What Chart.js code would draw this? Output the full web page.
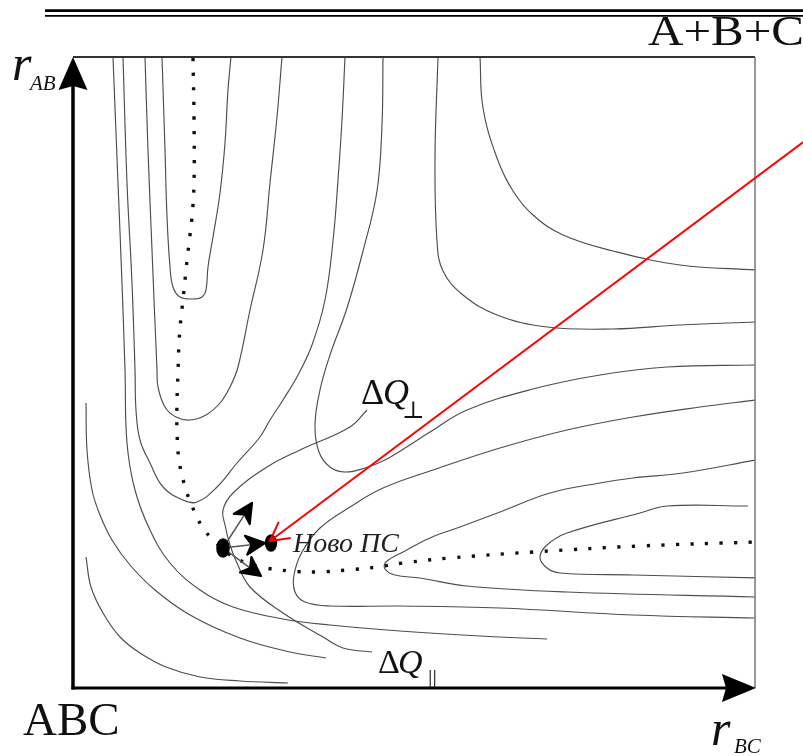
<!DOCTYPE html>
<html>
<head>
<meta charset="utf-8">
<script src="https://cdn.jsdelivr.net/npm/chart.js@4.4.1/dist/chart.umd.min.js"></script>
<style>
html,body{margin:0;padding:0;background:#fff;}
#wrap{position:relative;width:803px;height:756px;}
</style>
</head>
<body>
<div id="wrap"><canvas id="pes" width="803" height="756"></canvas></div>
<script>
// Поверхность потенциальной энергии A+BC, координаты [r_BC, r_AB] в условных единицах
// (рамка графика: r_BC 0..682, r_AB 0..630)

// долина входа (U-образные изолинии)
const entrance1 = [[89,631],[92,538],[94,471],[97,421],[100,401],[107,391],[120,389],[129,391],[133,398],[135,421],[140,451],[147,495],[152,545],[155,598],[158,631]];
const entrance2 = [[72,631],[75,538],[79,438],[84,318],[85,301],[92,281],[103,271],[117,268],[133,273],[147,285],[157,301],[165,321],[177,378],[190,438],[197,505],[204,571],[209,631]];
const entrance3 = [[50,631],[54,505],[59,405],[62,318],[63,278],[67,248],[77,225],[90,201],[110,188],[124,186],[144,201],[164,225],[187,251],[197,268],[210,288],[225,313],[239,343],[252,388],[260,447],[265,508],[269,568],[272,631]];

// долина выхода
const exit1 = [[675,182],[594,182],[567,175],[494,155],[474,143],[467,131],[474,120],[487,115],[560,113],[685,110]];
const exit2 = [[683,228],[610,215],[560,210],[527,205],[477,195],[427,176],[387,161],[357,150],[332,137],[313,126],[312,119],[322,113],[347,110],[394,102],[494,96],[683,91]];
const exit3 = [[683,288],[627,281],[560,271],[494,258],[427,240],[360,218],[310,200],[277,181],[247,160],[229,136],[221,113],[222,96],[232,86],[257,82],[327,82],[427,80],[560,73],[683,70]];

// плато A+B+C
const plateau1 = [[310,631],[309,563],[304,497],[290,437],[274,380],[257,333],[247,298],[242,263],[246,236],[257,221],[272,216],[292,220],[312,228],[332,240],[357,256],[394,278],[460,299],[527,313],[594,321],[683,323]];
const plateau2 = [[365,631],[362,530],[364,447],[370,417],[390,393],[424,373],[474,361],[540,359],[607,363],[683,366]];
const plateau3 = [[407,631],[410,580],[424,530],[440,497],[460,473],[490,453],[540,437],[607,423],[683,418]];

// отталкивательная стенка
const wall1 = [[40,631],[45,505],[49,405],[52,318],[54,245],[62,198],[77,158],[97,125],[127,98],[160,81],[210,69],[257,63],[327,57],[407,52],[474,49]];
const wall2 = [[13,285],[14,238],[19,198],[27,173],[39,148],[57,123],[82,98],[117,73],[167,50],[217,36],[253,30]];
const wall3 = [[13,131],[18,101],[30,75],[47,51],[67,35],[93,21],[127,11],[167,7],[215,5]];

// изолиния через седловую точку (ΔQ⊥ ... ΔQ||)
const saddleLine = [[294,278],[277,261],[227,238],[194,221],[160,195],[150,178],[152,163],[157,143],[164,125],[177,101],[210,75],[250,51],[270,40],[299,36]];

// путь реакции (пунктир)
const reactionPath = [[120,630],[121,571],[121,505],[119,471],[116,445],[113,418],[110,388],[108,371],[106,345],[105,315],[104,286],[104,258],[106,228],[112,201],[117,187],[123,173],[130,160],[140,148],[149,140],[160,131],[174,125],[187,121],[217,117],[244,116],[274,118],[304,121],[330,125],[377,130],[460,136],[567,142],[682,146]];

// седловая точка, новое ПС, стрелки
const saddlePoint = [150,140];
const newTS = [198,145];
const tsArrowTips = [[179,185],[192,145],[188,112]];
const redArrowFrom = [733,548];

const contourSets = [entrance1, entrance2, entrance3, exit1, exit2, exit3, plateau1, plateau2, plateau3, wall1, wall2, wall3, saddleLine];

const toXY = arr => arr.map(p => ({x: p[0], y: p[1]}));

const datasets = contourSets.map(arr => ({
  data: toXY(arr),
  showLine: true,
  pointRadius: 0,
  borderColor: '#4d4d4d',
  borderWidth: 1.15,
  tension: 0.4,
  fill: false
}));
datasets.push({
  data: toXY(reactionPath),
  showLine: true,
  pointRadius: 0,
  borderColor: '#111',
  borderWidth: 3.4,
  borderDash: [3.2, 11.4],
  borderCapStyle: 'butt',
  tension: 0.4,
  fill: false
});

const SERIF = '"Liberation Serif", "DejaVu Serif", serif';

function head(ctx, tip, ang, len, half, notch, stroke){
  const dx = Math.cos(ang), dy = Math.sin(ang);
  const bx = tip[0] - dx*len, by = tip[1] - dy*len;
  ctx.beginPath();
  ctx.moveTo(tip[0], tip[1]);
  ctx.lineTo(bx - dy*half, by + dx*half);
  ctx.lineTo(tip[0] - dx*(len-notch), tip[1] - dy*(len-notch));
  ctx.lineTo(bx + dy*half, by - dx*half);
  ctx.closePath();
  ctx.fill();
  if (stroke) { ctx.lineWidth = stroke; ctx.lineJoin = 'round'; ctx.stroke(); }
}

const overlay = {
  id: 'overlay',
  afterDatasetsDraw(chart){
    const ctx = chart.ctx;
    const xs = chart.scales.x, ys = chart.scales.y;
    const P = p => [xs.getPixelForValue(p[0]), ys.getPixelForValue(p[1])];
    const a = chart.chartArea;
    ctx.save();

    // двойная линия сверху
    ctx.strokeStyle = '#000';
    ctx.lineWidth = 2.7;
    ctx.beginPath(); ctx.moveTo(45, 10.7); ctx.lineTo(803, 10.7); ctx.stroke();
    ctx.lineWidth = 1.7;
    ctx.beginPath(); ctx.moveTo(45, 15.9); ctx.lineTo(803, 15.9); ctx.stroke();

    // рамка
    ctx.strokeStyle = '#333';
    ctx.lineWidth = 2;
    ctx.beginPath(); ctx.moveTo(a.left, a.top - 1); ctx.lineTo(a.right, a.top - 1); ctx.stroke();
    ctx.strokeStyle = '#777';
    ctx.lineWidth = 1.5;
    ctx.beginPath(); ctx.moveTo(a.right, a.top - 1); ctx.lineTo(a.right, a.bottom); ctx.stroke();

    // оси
    ctx.strokeStyle = '#000';
    ctx.fillStyle = '#000';
    ctx.lineWidth = 3.5;
    ctx.beginPath(); ctx.moveTo(a.left, a.bottom + 1.5); ctx.lineTo(a.left, a.top + 28); ctx.stroke();
    head(ctx, [a.left, a.top - 1], -Math.PI/2, 33, 14.5, 4);
    ctx.lineWidth = 3;
    ctx.beginPath(); ctx.moveTo(a.left - 1.5, a.bottom); ctx.lineTo(a.right - 28, a.bottom); ctx.stroke();
    head(ctx, [a.right + 1, a.bottom], 0, 34, 14, 4);

    // стрелки из седловой точки
    const s = P(saddlePoint);
    tsArrowTips.forEach(t => {
      const tp = P(t);
      const ang = Math.atan2(tp[1] - s[1], tp[0] - s[0]);
      ctx.strokeStyle = '#555';
      ctx.lineWidth = 1.5;
      ctx.beginPath(); ctx.moveTo(s[0], s[1]);
      ctx.lineTo(tp[0] - Math.cos(ang)*12, tp[1] - Math.sin(ang)*12); ctx.stroke();
      ctx.fillStyle = '#000';
      ctx.strokeStyle = '#000';
      head(ctx, tp, ang, 19, 9.5, 5.5, 2.2);
    });
    ctx.fillStyle = '#000';
    ctx.beginPath(); ctx.ellipse(s[0], s[1], 6.8, 9.8, 0, 0, Math.PI*2); ctx.fill();
    const n = P(newTS);
    ctx.beginPath(); ctx.ellipse(n[0], n[1], 6.2, 8.8, 0, 0, Math.PI*2); ctx.fill();

    // красная стрелка
    const r0 = P(redArrowFrom);
    const rt = [n[0] - 1, n[1] - 2];
    ctx.strokeStyle = '#f00';
    ctx.lineWidth = 2;
    ctx.lineJoin = 'miter';
    ctx.beginPath(); ctx.moveTo(r0[0], r0[1]); ctx.lineTo(rt[0], rt[1]); ctx.stroke();
    const back = Math.atan2(r0[1] - rt[1], r0[0] - rt[0]);
    ctx.beginPath();
    ctx.moveTo(rt[0] + Math.cos(back - 0.5)*21, rt[1] + Math.sin(back - 0.5)*21);
    ctx.lineTo(rt[0], rt[1]);
    ctx.lineTo(rt[0] + Math.cos(back + 0.5)*21, rt[1] + Math.sin(back + 0.5)*21);
    ctx.stroke();

    // подписи
    ctx.fillStyle = '#111';
    ctx.textBaseline = 'alphabetic';
    ctx.textAlign = 'left';
    let p;

    p = P([575, 643]);
    ctx.font = '43px ' + SERIF;
    const w = ctx.measureText('A+B+C').width;
    ctx.save(); ctx.translate(p[0], p[1]); ctx.scale(156 / w, 1); ctx.fillText('A+B+C', 0, 0); ctx.restore();

    p = P([-50, -47]);
    ctx.font = '47px ' + SERIF;
    ctx.fillText('ABC', p[0], p[1]);

    p = P([-61, 608]);
    ctx.font = 'italic 50px ' + SERIF;
    ctx.fillText('r', p[0], p[1]);
    p = P([-43, 598]);
    ctx.font = 'italic 21px ' + SERIF;
    ctx.fillText('AB', p[0], p[1]);

    p = P([638, -57]);
    ctx.font = 'italic 50px ' + SERIF;
    ctx.fillText('r', p[0], p[1]);
    p = P([661, -65]);
    ctx.font = 'italic 21px ' + SERIF;
    ctx.fillText('BC', p[0], p[1]);

    p = P([288, 284]);
    ctx.font = '36px ' + SERIF;
    ctx.fillText('Δ', p[0], p[1]);
    ctx.font = 'italic 36px ' + SERIF;
    ctx.fillText('Q', p[0] + 22, p[1]);
    p = P([329, 270]);
    ctx.font = '24px ' + SERIF;
    ctx.fillText('⊥', p[0], p[1]);

    p = P([305, 15]);
    ctx.font = '34px ' + SERIF;
    ctx.fillText('Δ', p[0], p[1]);
    ctx.font = 'italic 34px ' + SERIF;
    ctx.fillText('Q', p[0] + 20, p[1]);
    p = P([355, 4]);
    ctx.font = '22px ' + SERIF;
    ctx.fillText('||', p[0], p[1]);

    p = P([220, 136]);
    ctx.font = 'italic 28px ' + SERIF;
    ctx.fillStyle = '#222';
    ctx.fillText('Ново ПС', p[0], p[1]);

    ctx.restore();
  }
};

new Chart(document.getElementById('pes'), {
  type: 'scatter',
  data: { datasets },
  options: {
    responsive: false,
    animation: false,
    events: [],
    layout: { padding: { left: 73, right: 48, top: 58, bottom: 68 } },
    plugins: { legend: { display: false }, tooltip: { enabled: false } },
    scales: {
      x: { type: 'linear', min: 0, max: 682, display: false },
      y: { type: 'linear', min: 0, max: 630, display: false }
    }
  },
  plugins: [overlay]
});
</script>
</body>
</html>
